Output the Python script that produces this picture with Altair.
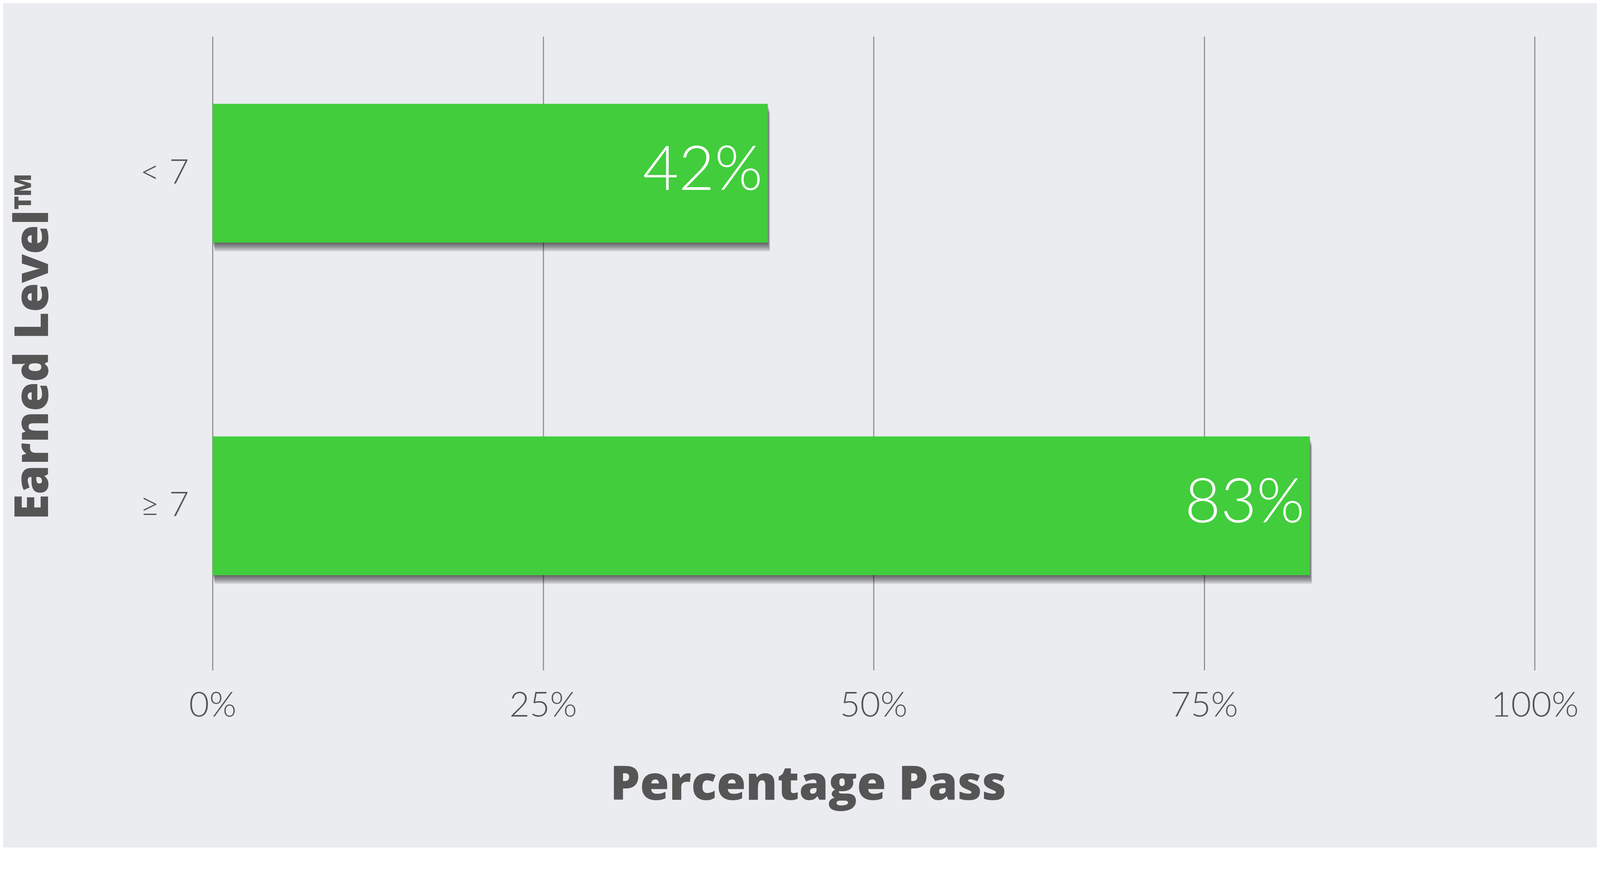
import altair as alt
import pandas as pd

categories = ["< 7", "≥ 7"]
pass_pct = [42, 83]
tick_values = [0, 25, 50, 75, 100]

df = pd.DataFrame({"level": categories, "pct": pass_pct})
df["label"] = [f"{v}%" for v in pass_pct]

W, H = 3674, 1761
GREEN = "#42CD3C"
TEXT = "#555555"

y_enc = alt.Y(
    "level:N",
    sort=categories,
    scale=alt.Scale(paddingInner=0.583, paddingOuter=0.2445, align=0.415),
    axis=alt.Axis(
        title="Earned Level™",
        titleFont="Open Sans",
        titleFontWeight=800,
        titleFontSize=131,
        titleColor=TEXT,
        titleAngle=-90,
        titleAlign="center",
        titleBaseline="middle",
        titleX=-497,
        titleY=862,
        labelFont="Lato",
        labelFontWeight=300,
        labelFontSize=95,
        labelColor=TEXT,
        labelPadding=66,
        labelLimit=0,
        ticks=False,
        tickSize=0,
        domain=False,
        grid=False,
    ),
)

x_scale = alt.Scale(domain=[0, 100], nice=False)

x_enc = alt.X(
    "pct:Q",
    scale=x_scale,
    axis=alt.Axis(
        values=tick_values,
        labelExpr="datum.value + '%'",
        title="Percentage Pass",
        titleFont="Open Sans",
        titleFontWeight=800,
        titleFontSize=131,
        titleColor=TEXT,
        titleAlign="center",
        titleBaseline="alphabetic",
        titleX=1655,
        titleY=360,
        labelFont="Lato",
        labelFontWeight=300,
        labelFontSize=97,
        labelColor=TEXT,
        labelBaseline="alphabetic",
        labelPadding=128,
        labelFlush=False,
        labelLimit=0,
        labelOverlap=False,
        ticks=False,
        tickSize=0,
        domain=False,
        grid=True,
        gridColor="#8c8c8c",
        gridWidth=3,
    ),
)

base = alt.Chart(df)

shadows = [
    base.mark_bar(color="#000000", opacity=0.12, xOffset=dx, yOffset=dy).encode(
        x=x_enc, y=y_enc
    )
    for dx, dy in [(0, 4), (2, 8), (3, 12), (4, 16), (5, 20), (6, 24)]
]

bars = base.mark_bar(color=GREEN).encode(x=x_enc, y=y_enc)

labels = base.mark_text(
    align="right",
    baseline="middle",
    dx=-14,
    dy=-6,
    color="white",
    font="Lato",
    fontWeight=300,
    fontSize=172,
).encode(x=x_enc, y=y_enc, text="label:N")

chart = (
    alt.layer(*shadows, bars, labels)
    .properties(
        width=W,
        height=H,
        autosize=alt.AutoSizeParams(type="none"),
        padding={"left": 582, "top": 0, "right": 173, "bottom": 400},
    )
    .configure(background="#eaecef")
    .configure_view(stroke=None)
)

chart.save("out.html", embed_options={"renderer": "svg", "actions": False})
